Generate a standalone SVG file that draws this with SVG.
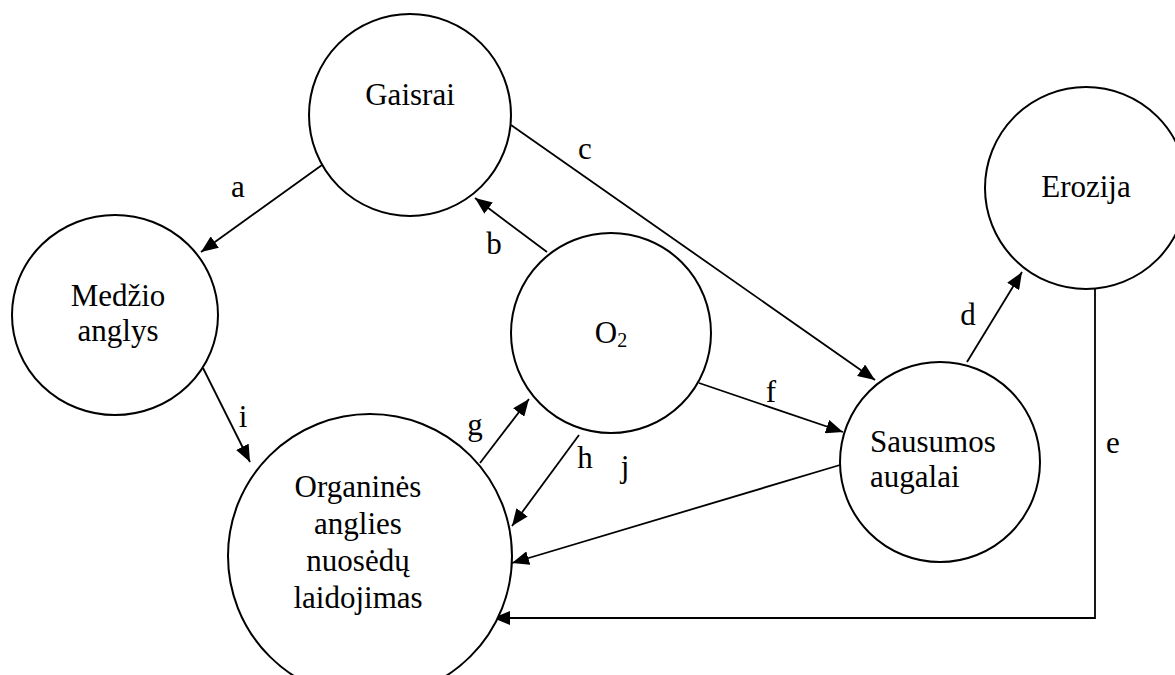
<svg xmlns="http://www.w3.org/2000/svg" width="1175" height="675" viewBox="0 0 1175 675">
  <style>
    .node { fill: #ffffff; stroke: #000000; stroke-width: 2; }
    .txt { font-family: "Liberation Serif", "Times New Roman", serif; font-size: 31px; fill: #000000; }
    .mid { text-anchor: middle; }
    .edge { fill: none; stroke: #000000; stroke-width: 1.8; }
    .arrow { marker-end: url(#head); }
  </style>
  <defs>
    <marker id="head" markerUnits="userSpaceOnUse" markerWidth="18" markerHeight="14" refX="17" refY="7" orient="auto">
      <path d="M0,0 L17,7 L0,14 Z" fill="#000000"/>
    </marker>
  </defs>
  <rect width="1175" height="675" fill="#ffffff"/>

  <!-- connectors with their letter labels -->
  <g id="connectors">
    <line class="edge arrow" x1="322" y1="165" x2="201" y2="252"/>
    <line class="edge arrow" x1="547" y1="252" x2="475" y2="198"/>
    <line class="edge arrow" x1="511" y1="125" x2="875" y2="380"/>
    <line class="edge arrow" x1="967" y1="362" x2="1022" y2="272"/>
    <polyline class="edge arrow" points="1095,289 1095,618 493,618"/>
    <line class="edge arrow" x1="699" y1="383" x2="843" y2="432"/>
    <line class="edge arrow" x1="480" y1="463" x2="529" y2="399"/>
    <line class="edge arrow" x1="579" y1="435" x2="512" y2="526"/>
    <line class="edge arrow" x1="203" y1="368" x2="250" y2="462"/>
    <line class="edge arrow" x1="840" y1="465" x2="512" y2="563"/>

    <text class="txt mid" x="238" y="197">a</text>
    <text class="txt mid" x="494" y="254">b</text>
    <text class="txt mid" x="585" y="159">c</text>
    <text class="txt mid" x="968" y="325">d</text>
    <text class="txt mid" x="1113" y="453">e</text>
    <text class="txt mid" x="771" y="402">f</text>
    <text class="txt mid" x="475" y="435">g</text>
    <text class="txt mid" x="585" y="468">h</text>
    <text class="txt mid" x="243" y="427">i</text>
    <text class="txt mid" x="625" y="477">j</text>
  </g>

  <g id="gaisrai">
    <circle class="node" cx="410" cy="115" r="101"/>
    <text class="txt mid" x="410" y="105">Gaisrai</text>
  </g>

  <g id="medzio-anglys">
    <ellipse class="node" cx="115" cy="315" rx="103" ry="100"/>
    <text class="txt mid" x="118" y="306">Medžio</text>
    <text class="txt mid" x="118" y="341">anglys</text>
  </g>

  <g id="o2">
    <circle class="node" cx="611" cy="333" r="100"/>
    <text class="txt mid" x="611" y="343">O<tspan font-size="20" dy="4">2</tspan></text>
  </g>

  <g id="organines">
    <circle class="node" cx="370" cy="556" r="142"/>
    <text class="txt mid" x="358" y="497">Organinės</text>
    <text class="txt mid" x="358" y="534">anglies</text>
    <text class="txt mid" x="358" y="571">nuosėdų</text>
    <text class="txt mid" x="358" y="608">laidojimas</text>
  </g>

  <g id="sausumos-augalai">
    <circle class="node" cx="940" cy="462" r="100"/>
    <text class="txt" x="870" y="452">Sausumos</text>
    <text class="txt" x="870" y="487">augalai</text>
  </g>

  <g id="erozija">
    <circle class="node" cx="1086" cy="188" r="101"/>
    <text class="txt mid" x="1086" y="197">Erozija</text>
  </g>
</svg>
